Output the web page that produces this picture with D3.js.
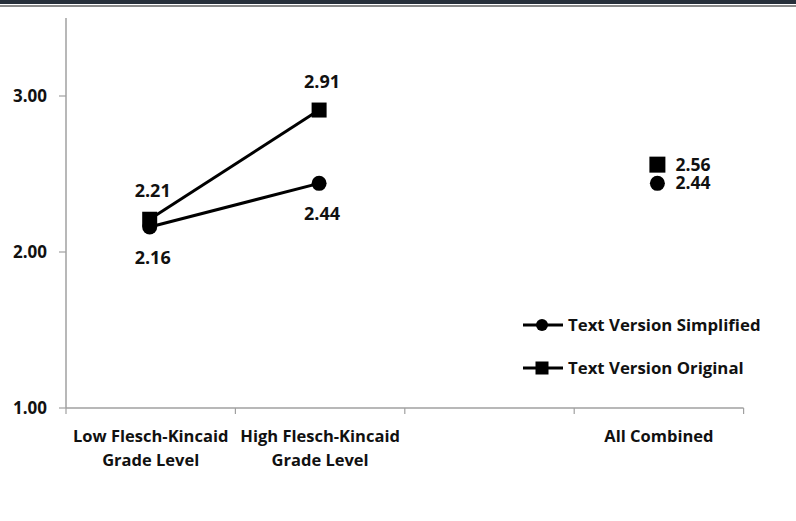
<!DOCTYPE html>
<html>
<head>
<meta charset="utf-8">
<script src="https://cdn.jsdelivr.net/npm/d3@7"></script>
<style>
body{margin:0;background:#fff;}
svg{display:block;}
text{font-family:"Open Sans",sans-serif;font-weight:bold;fill:#111;}
</style>
</head>
<body>
<svg id="chart" width="796" height="521"></svg>
<script>
var categories = ["Low Flesch-Kincaid|Grade Level","High Flesch-Kincaid|Grade Level","","All Combined"];
var simplified = [2.16, 2.44];
var original = [2.21, 2.91];
var combined_simplified = 2.44;
var combined_original = 2.56;
var y_ticks = [1, 2, 3];
var series_names = ["Text Version Simplified","Text Version Original"];

var svg = d3.select("#chart");

// top border
svg.append("rect").attr("x",0).attr("y",0).attr("width",796).attr("height",4).attr("fill","#262f3a");
svg.append("rect").attr("x",0).attr("y",5).attr("width",796).attr("height",2).attr("fill","#8a8a8a");

var x = d3.scaleBand().domain(d3.range(categories.length)).range([66,743.6]);
var y = d3.scaleLinear().domain([1,3.5]).range([408,18]);

var g = svg.append("g");

// y axis
g.append("line").attr("x1",66).attr("x2",66).attr("y1",y(3.5)).attr("y2",y(1))
 .attr("stroke","#a0a0a0").attr("stroke-width",1.5);
g.selectAll(".ytick").data(y_ticks).enter().append("line")
 .attr("x1",59).attr("x2",66).attr("y1",function(d){return y(d);}).attr("y2",function(d){return y(d);})
 .attr("stroke","#a0a0a0").attr("stroke-width",1.2);
g.selectAll(".ylab").data(y_ticks).enter().append("text")
 .attr("x",47).attr("y",function(d){return y(d)+6;})
 .attr("text-anchor","end").style("font-size","17px")
 .text(function(d){return d.toFixed(2);});

// x axis
g.append("line").attr("x1",66).attr("x2",743.6).attr("y1",y(1)).attr("y2",y(1))
 .attr("stroke","#a0a0a0").attr("stroke-width",1.5);
var xt = d3.range(categories.length+1).map(function(i){return 66 + i*x.step();});
g.selectAll(".xtick").data(xt).enter().append("line")
 .attr("x1",function(d){return d;}).attr("x2",function(d){return d;})
 .attr("y1",y(1)).attr("y2",y(1)+6)
 .attr("stroke","#a0a0a0").attr("stroke-width",1.2);
categories.forEach(function(c,i){
  var t = g.append("text").attr("text-anchor","middle").style("font-size","16.5px")
   .attr("x",x(i)+x.bandwidth()/2).attr("y",442);
  c.split("|").forEach(function(s,k){
    t.append("tspan").attr("x",x(i)+x.bandwidth()/2).attr("dy",k==0?0:24).text(s);
  });
});

var cx = function(i){return x(i)+x.bandwidth()/2 - 1;};
var line = d3.line().x(function(d,i){return cx(i);}).y(function(d){return y(d);});

g.append("path").datum(original).attr("d",line).attr("fill","none").attr("stroke","#000").attr("stroke-width",3);
g.append("path").datum(simplified).attr("d",line).attr("fill","none").attr("stroke","#000").attr("stroke-width",3);

g.selectAll(".sq").data(original).enter().append("rect")
 .attr("x",function(d,i){return cx(i)-7.5;}).attr("y",function(d){return y(d)-7.5;})
 .attr("width",15).attr("height",15).attr("fill","#000");
g.selectAll(".ci").data(simplified).enter().append("circle")
 .attr("cx",function(d,i){return cx(i);}).attr("cy",function(d){return y(d);})
 .attr("r",7.5).attr("fill","#000");

// value labels
g.selectAll(".lo").data(original).enter().append("text")
 .attr("x",function(d,i){return cx(i)+3;}).attr("y",function(d){return y(d)-22;})
 .attr("text-anchor","middle").style("font-size","18px")
 .text(function(d){return d.toFixed(2);});
g.selectAll(".ls").data(simplified).enter().append("text")
 .attr("x",function(d,i){return cx(i)+3;}).attr("y",function(d){return y(d)+37;})
 .attr("text-anchor","middle").style("font-size","18px")
 .text(function(d){return d.toFixed(2);});

// all combined
var ac = x(3)+x.bandwidth()/2 - 1.5;
g.append("rect").attr("x",ac-8).attr("y",y(combined_original)-8).attr("width",16).attr("height",16).attr("fill","#000");
g.append("circle").attr("cx",ac).attr("cy",y(combined_simplified)).attr("r",7.5).attr("fill","#000");
g.append("text").attr("x",ac+18).attr("y",y(combined_original)+6).style("font-size","17.5px").text(combined_original.toFixed(2));
g.append("text").attr("x",ac+18).attr("y",y(combined_simplified)+6).style("font-size","17.5px").text(combined_simplified.toFixed(2));

// legend
var legend = g.selectAll(".leg").data(series_names).enter().append("g")
 .attr("transform",function(d,i){return "translate(523,"+(325+i*43)+")";});
legend.append("line").attr("x1",0).attr("x2",40).attr("y1",0).attr("y2",0).attr("stroke","#000").attr("stroke-width",3);
legend.each(function(d,i){
  var s = d3.select(this);
  if(i==0) s.append("circle").attr("cx",19).attr("cy",0).attr("r",6).attr("fill","#000");
  else s.append("rect").attr("x",12.5).attr("y",-6.5).attr("width",13).attr("height",13).attr("fill","#000");
});
legend.append("text").attr("x",45).attr("y",6).style("font-size","16.8px").text(function(d){return d;});
</script>
</body>
</html>
